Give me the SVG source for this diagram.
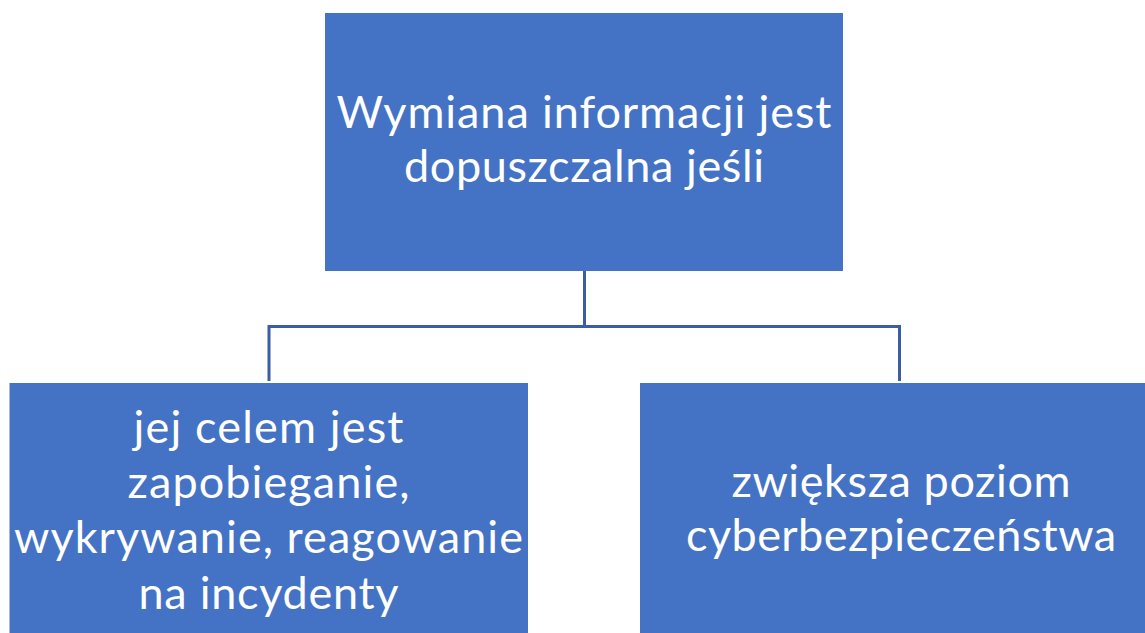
<svg xmlns="http://www.w3.org/2000/svg" width="1145" height="633" viewBox="0 0 1145 633">
  <style>
    .box { fill: #4472c4; }
    .lbl { fill: #ffffff; font-family: Lato, "Open Sans", "Liberation Sans", sans-serif; font-size: 45px; text-anchor: middle; }
    .conn { fill: none; stroke: #3a5da6; stroke-width: 3; }
  </style>
  <rect width="1145" height="633" fill="#ffffff"/>
  <g id="connectors">
    <path class="conn" d="M584.5,271 V326.5"/>
    <path class="conn" d="M269,381 V326.5 H899.5 V381"/>
  </g>
  <g id="node-top">
    <rect class="box" x="325" y="13" width="518" height="258"/>
    <text class="lbl" x="584" y="128" textLength="495" lengthAdjust="spacing">Wymiana informacji jest</text>
    <text class="lbl" x="584" y="182" textLength="360" lengthAdjust="spacing">dopuszczalna jeśli</text>
  </g>
  <g id="node-left">
    <rect class="box" x="9.5" y="383" width="518.5" height="260"/>
    <text class="lbl" x="268.5" y="443" textLength="270" lengthAdjust="spacing">jej celem jest</text>
    <text class="lbl" x="268.5" y="498" textLength="282" lengthAdjust="spacing">zapobieganie,</text>
    <text class="lbl" x="268.5" y="553" textLength="509" lengthAdjust="spacing">wykrywanie, reagowanie</text>
    <text class="lbl" x="268.5" y="609" textLength="260" lengthAdjust="spacing">na incydenty</text>
  </g>
  <g id="node-right">
    <rect class="box" x="640" y="383" width="520" height="260"/>
    <text class="lbl" x="901" y="497" textLength="339" lengthAdjust="spacing">zwiększa poziom</text>
    <text class="lbl" x="901" y="551" textLength="430" lengthAdjust="spacing">cyberbezpieczeństwa</text>
  </g>
</svg>
